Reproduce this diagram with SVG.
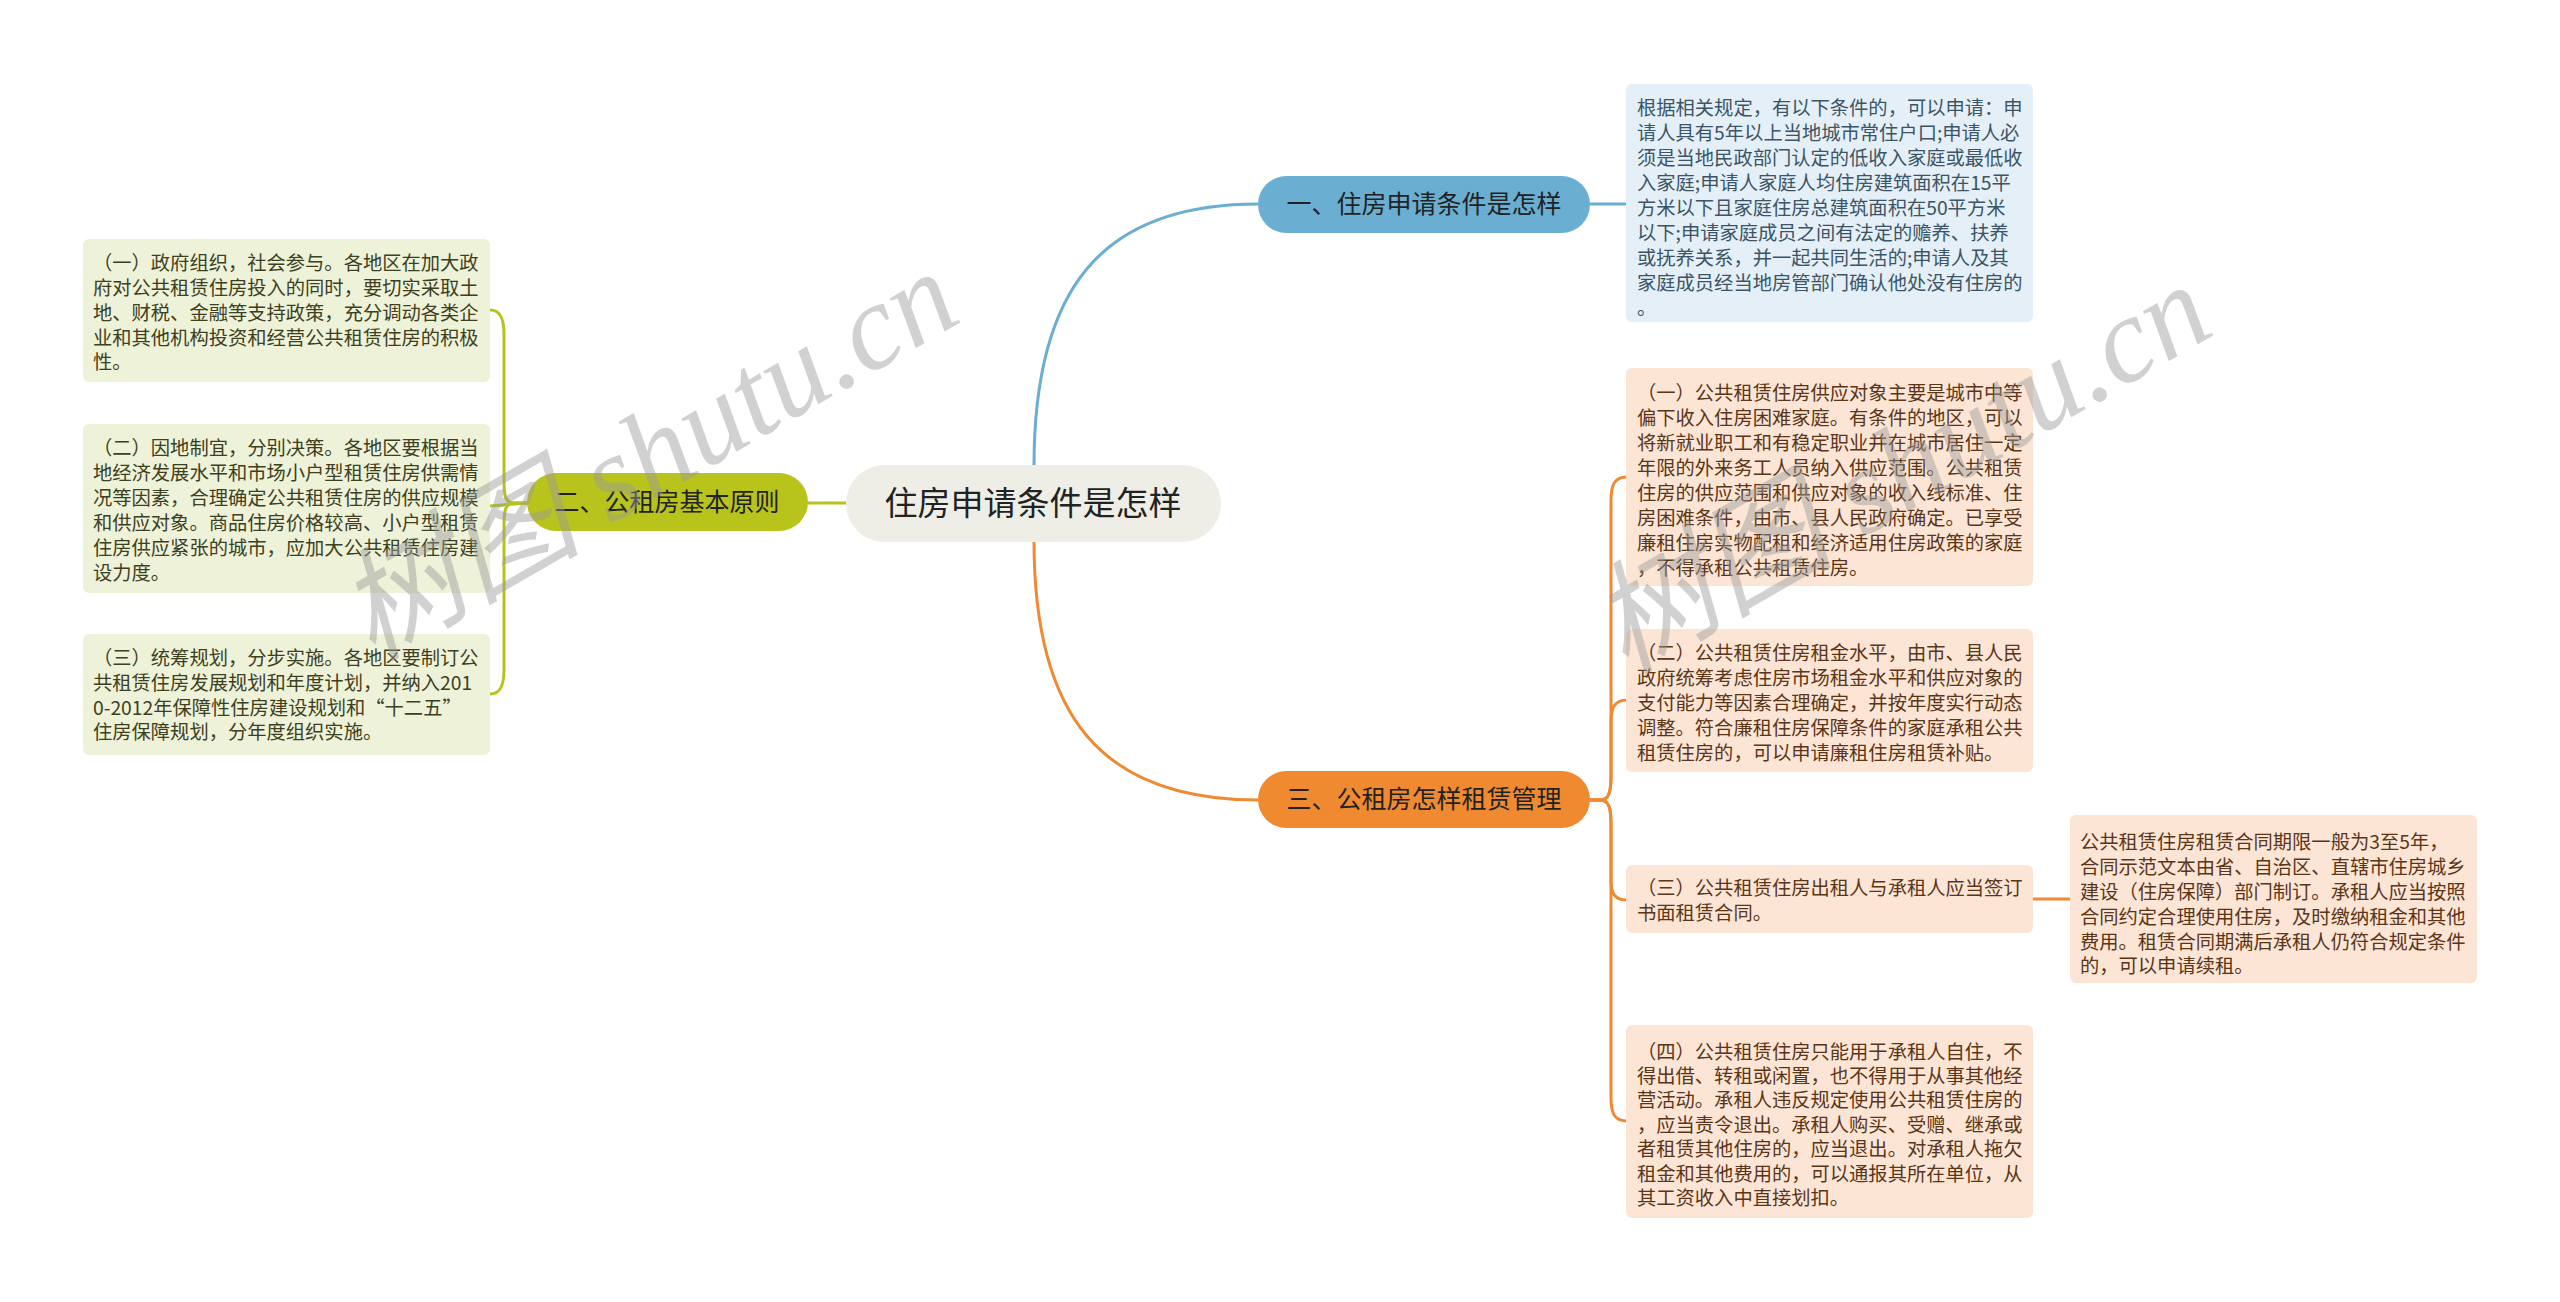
<svg xmlns="http://www.w3.org/2000/svg" width="2560" height="1302" viewBox="0 0 2560 1302">
<style>
text{font-family:"Noto Sans CJK SC","Noto Sans",sans-serif}
.leaf{font-size:19.3px}
.lb{fill:#3b5566}
.lo{fill:#5a3517}
.lg{fill:#3d4020}
.br{font-size:25px;fill:#222;text-anchor:middle}
.root{font-size:33px;fill:#222;text-anchor:middle}
.cb{fill:none;stroke:#6aaed2;stroke-width:3}
.co{fill:none;stroke:#ef8a33;stroke-width:3}
.cg{fill:none;stroke:#b7c31d;stroke-width:3}
.wm{font-family:"Liberation Serif","Noto Sans CJK SC",serif;font-style:italic;font-size:122px;fill:#9a9a9a;opacity:0.45}
</style>
<rect width="2560" height="1302" fill="#ffffff"/>
<g id="connectors">
<path class="cb" d="M1034,466 C1034,290 1100,204 1258,204"/>
<path class="co" d="M1034,541 C1034,715 1100,800 1258,800"/>
<path class="cg" d="M846,503 L808,503"/>
<path class="cb" d="M1590,204 L1626,204"/>
<path class="cg" d="M527,503 L514,503 C505,503 504,495 504,480 L504,334 C504,318 500,310 490,310"/>
<path class="cg" d="M527,503 L490,506"/>
<path class="cg" d="M527,503 L514,503 C505,503 504,511 504,526 L504,670 C504,686 500,694 490,694"/>
<path class="co" d="M1590,800 L1600,800 C1609,800 1611,792 1611,776 L1611,500 C1611,484 1615,477 1627,477"/>
<path class="co" d="M1590,800 L1600,800 C1609,800 1611,792 1611,776 L1611,722 C1611,707 1615,700 1627,700"/>
<path class="co" d="M1590,800 L1600,800 C1609,800 1611,808 1611,824 L1611,880 C1611,894 1615,900 1627,900"/>
<path class="co" d="M1590,800 L1600,800 C1609,800 1611,808 1611,824 L1611,1098 C1611,1114 1615,1121 1627,1121"/>
<path class="co" d="M2033,899 L2070,899"/>
</g>
<g id="root">
<rect x="846" y="465" width="375" height="77" rx="38.5" fill="#eeeee6"/>
<text class="root" x="1033" y="515">住房申请条件是怎样</text>
</g>
<g id="b1">
<rect x="1258" y="176" width="332" height="57" rx="28.5" fill="#6aaed2"/>
<text class="br" x="1424" y="213">一、住房申请条件是怎样</text>
</g>
<g id="b2">
<rect x="527" y="473" width="281" height="58" rx="29" fill="#b8c41c"/>
<text class="br" x="667" y="511">二、公租房基本原则</text>
</g>
<g id="b3">
<rect x="1258" y="771" width="332" height="57" rx="28.5" fill="#f08a30"/>
<text class="br" x="1424" y="808">三、公租房怎样租赁管理</text>
</g>
<g id="leaf-b1">
<rect x="1626" y="84" width="407" height="238" rx="6" fill="#e4eff7"/>
<text class="leaf lb" x="1637">
<tspan x="1637" y="115">根据相关规定，有以下条件的，可以申请：申</tspan>
<tspan x="1637" y="140">请人具有5年以上当地城市常住户口;申请人必</tspan>
<tspan x="1637" y="165">须是当地民政部门认定的低收入家庭或最低收</tspan>
<tspan x="1637" y="190">入家庭;申请人家庭人均住房建筑面积在15平</tspan>
<tspan x="1637" y="215">方米以下且家庭住房总建筑面积在50平方米</tspan>
<tspan x="1637" y="240">以下;申请家庭成员之间有法定的赡养、扶养</tspan>
<tspan x="1637" y="265">或抚养关系，并一起共同生活的;申请人及其</tspan>
<tspan x="1637" y="290">家庭成员经当地房管部门确认他处没有住房的</tspan>
<tspan x="1637" y="315">。</tspan>
</text>
</g>
<g id="leaf-o1">
<rect x="1626" y="368" width="407" height="218" rx="6" fill="#fce5d5"/>
<text class="leaf lo">
<tspan x="1637" y="400">（一）公共租赁住房供应对象主要是城市中等</tspan>
<tspan x="1637" y="425">偏下收入住房困难家庭。有条件的地区，可以</tspan>
<tspan x="1637" y="450">将新就业职工和有稳定职业并在城市居住一定</tspan>
<tspan x="1637" y="475">年限的外来务工人员纳入供应范围。公共租赁</tspan>
<tspan x="1637" y="500">住房的供应范围和供应对象的收入线标准、住</tspan>
<tspan x="1637" y="525">房困难条件，由市、县人民政府确定。已享受</tspan>
<tspan x="1637" y="550">廉租住房实物配租和经济适用住房政策的家庭</tspan>
<tspan x="1637" y="575">，不得承租公共租赁住房。</tspan>
</text>
</g>
<g id="leaf-o2">
<rect x="1626" y="629" width="407" height="143" rx="6" fill="#fce5d5"/>
<text class="leaf lo">
<tspan x="1637" y="660">（二）公共租赁住房租金水平，由市、县人民</tspan>
<tspan x="1637" y="685">政府统筹考虑住房市场租金水平和供应对象的</tspan>
<tspan x="1637" y="710">支付能力等因素合理确定，并按年度实行动态</tspan>
<tspan x="1637" y="735">调整。符合廉租住房保障条件的家庭承租公共</tspan>
<tspan x="1637" y="760">租赁住房的，可以申请廉租住房租赁补贴。</tspan>
</text>
</g>
<g id="leaf-o3">
<rect x="1626" y="865" width="407" height="68" rx="6" fill="#fce5d5"/>
<text class="leaf lo">
<tspan x="1637" y="895">（三）公共租赁住房出租人与承租人应当签订</tspan>
<tspan x="1637" y="920">书面租赁合同。</tspan>
</text>
</g>
<g id="leaf-o3a">
<rect x="2070" y="815" width="407" height="168" rx="6" fill="#fce5d5"/>
<text class="leaf lo">
<tspan x="2080" y="849">公共租赁住房租赁合同期限一般为3至5年，</tspan>
<tspan x="2080" y="874">合同示范文本由省、自治区、直辖市住房城乡</tspan>
<tspan x="2080" y="899">建设（住房保障）部门制订。承租人应当按照</tspan>
<tspan x="2080" y="924">合同约定合理使用住房，及时缴纳租金和其他</tspan>
<tspan x="2080" y="949">费用。租赁合同期满后承租人仍符合规定条件</tspan>
<tspan x="2080" y="973">的，可以申请续租。</tspan>
</text>
</g>
<g id="leaf-o4">
<rect x="1626" y="1025" width="407" height="193" rx="6" fill="#fce5d5"/>
<text class="leaf lo">
<tspan x="1637" y="1059">（四）公共租赁住房只能用于承租人自住，不</tspan>
<tspan x="1637" y="1083">得出借、转租或闲置，也不得用于从事其他经</tspan>
<tspan x="1637" y="1107">营活动。承租人违反规定使用公共租赁住房的</tspan>
<tspan x="1637" y="1132">，应当责令退出。承租人购买、受赠、继承或</tspan>
<tspan x="1637" y="1156">者租赁其他住房的，应当退出。对承租人拖欠</tspan>
<tspan x="1637" y="1181">租金和其他费用的，可以通报其所在单位，从</tspan>
<tspan x="1637" y="1205">其工资收入中直接划扣。</tspan>
</text>
</g>
<g id="leaf-g1">
<rect x="83" y="239" width="407" height="143" rx="6" fill="#eef2d8"/>
<text class="leaf lg">
<tspan x="93" y="270">（一）政府组织，社会参与。各地区在加大政</tspan>
<tspan x="93" y="295">府对公共租赁住房投入的同时，要切实采取土</tspan>
<tspan x="93" y="320">地、财税、金融等支持政策，充分调动各类企</tspan>
<tspan x="93" y="345">业和其他机构投资和经营公共租赁住房的积极</tspan>
<tspan x="93" y="369">性。</tspan>
</text>
</g>
<g id="leaf-g2">
<rect x="83" y="424" width="407" height="169" rx="6" fill="#eef2d8"/>
<text class="leaf lg">
<tspan x="93" y="455">（二）因地制宜，分别决策。各地区要根据当</tspan>
<tspan x="93" y="480">地经济发展水平和市场小户型租赁住房供需情</tspan>
<tspan x="93" y="505">况等因素，合理确定公共租赁住房的供应规模</tspan>
<tspan x="93" y="530">和供应对象。商品住房价格较高、小户型租赁</tspan>
<tspan x="93" y="555">住房供应紧张的城市，应加大公共租赁住房建</tspan>
<tspan x="93" y="580">设力度。</tspan>
</text>
</g>
<g id="leaf-g3">
<rect x="83" y="634" width="407" height="121" rx="6" fill="#eef2d8"/>
<text class="leaf lg">
<tspan x="93" y="665">（三）统筹规划，分步实施。各地区要制订公</tspan>
<tspan x="93" y="690">共租赁住房发展规划和年度计划，并纳入201</tspan>
<tspan x="93" y="715">0-2012年保障性住房建设规划和“十二五”</tspan>
<tspan x="93" y="739">住房保障规划，分年度组织实施。</tspan>
</text>
</g>
<g id="watermarks">
<text class="wm" transform="translate(372,662) rotate(-30)">树图 shutu.cn</text>
<text class="wm" transform="translate(1625,675) rotate(-30)">树图 shutu.cn</text>
</g>
</svg>
